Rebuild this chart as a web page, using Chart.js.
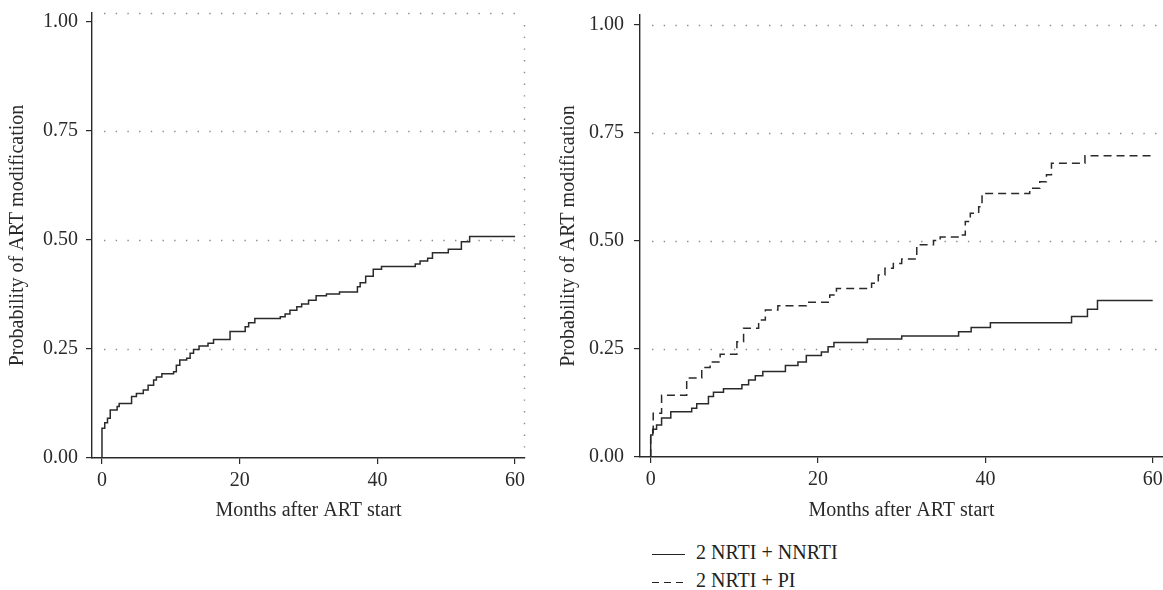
<!DOCTYPE html>
<html>
<head>
<meta charset="utf-8">
<script src="https://cdn.jsdelivr.net/npm/chart.js@4.4.0/dist/chart.umd.min.js"></script>
<style>
  body { margin: 0; background: #fff; width: 1163px; height: 590px; position: relative; overflow: hidden; font-family: "Liberation Serif", serif; }
  #leftBox { position: absolute; left: 0; top: 0; width: 545px; height: 530px; }
  #rightBox { position: absolute; left: 557px; top: 0; width: 606px; height: 530px; }
  #legend { position: absolute; left: 652px; top: 538px; font-size: 20px; color: #222; line-height: 28px; }
  .row { white-space: nowrap; }
  .sample { display: inline-block; width: 33px; height: 1.4px; vertical-align: middle; margin-right: 11px; background: #222; }
  .sample.dash { background: repeating-linear-gradient(to right, #222 0 7px, transparent 7px 12px); }
</style>
</head>
<body>
<div id="leftBox"><canvas id="allChart"></canvas></div>
<div id="rightBox"><canvas id="regimenChart"></canvas></div>
<div id="legend">
  <div class="row"><span class="sample"></span>2 NRTI + NNRTI</div>
  <div class="row"><span class="sample dash"></span>2 NRTI + PI</div>
</div>
<script>
// all patients (left panel)
const allMonths = [0, 0, 0.4, 0.8, 1.2, 2.2, 2.5, 4.3, 5.0, 6.0, 6.7, 7.5, 7.9, 8.7, 10.4, 10.8, 11.3, 12.3, 12.8, 13.3, 14.1, 15.4, 16.2, 18.6, 20.8, 21.3, 22.2, 25.9, 26.6, 27.3, 28.3, 29.0, 30.0, 31.1, 32.6, 34.5, 37.1, 37.5, 38.3, 39.4, 40.6, 45.5, 46.2, 47.3, 48.0, 50.3, 52.2, 53.4, 60];
const allProb = [0, 0.068, 0.081, 0.091, 0.110, 0.118, 0.125, 0.141, 0.148, 0.156, 0.167, 0.179, 0.186, 0.193, 0.198, 0.213, 0.225, 0.229, 0.240, 0.249, 0.257, 0.263, 0.272, 0.290, 0.301, 0.310, 0.320, 0.324, 0.330, 0.339, 0.347, 0.353, 0.362, 0.372, 0.376, 0.381, 0.393, 0.402, 0.417, 0.433, 0.439, 0.445, 0.452, 0.458, 0.471, 0.479, 0.496, 0.508, 0.508];

// 2 NRTI + NNRTI
const nnrtiMonths = [0, 0, 0.24, 0.7, 1.3, 2.4, 4.9, 5.5, 6.9, 7.5, 8.7, 10.9, 11.7, 12.5, 13.4, 16.1, 17.6, 18.6, 20.4, 21.2, 21.9, 25.9, 30.0, 36.8, 38.3, 40.6, 50.3, 52.2, 53.4, 60];
const nnrtiProb = [0, 0.051, 0.064, 0.074, 0.090, 0.105, 0.113, 0.123, 0.140, 0.150, 0.158, 0.167, 0.178, 0.188, 0.198, 0.212, 0.220, 0.235, 0.243, 0.255, 0.265, 0.273, 0.280, 0.290, 0.300, 0.311, 0.325, 0.342, 0.362, 0.362];

// 2 NRTI + PI
const piMonths = [0, 0, 0.3, 1.3, 4.3, 6.1, 7.1, 8.3, 10.3, 11.1, 12.9, 13.7, 15.2, 18.6, 21.4, 22.2, 26.4, 27.2, 28.0, 29.0, 30.0, 31.8, 33.8, 34.6, 37.0, 37.6, 38.2, 39.2, 39.6, 45.3, 46.5, 47.3, 47.9, 51.9, 60];
const piProb = [0, 0.047, 0.101, 0.143, 0.183, 0.207, 0.220, 0.238, 0.267, 0.298, 0.317, 0.340, 0.350, 0.358, 0.375, 0.390, 0.402, 0.421, 0.437, 0.448, 0.458, 0.491, 0.501, 0.509, 0.514, 0.545, 0.564, 0.579, 0.610, 0.622, 0.637, 0.653, 0.680, 0.697, 0.697];

const xTicks = [0, 20, 40, 60];
const yTicks = [0, 0.25, 0.5, 0.75, 1];
const leftGrid = [0.25, 0.5, 0.75];
const rightGrid = [0.25, 0.5, 0.75, 1];

const ink = '#2a2a2a';
const serif = 'Liberation Serif';

function toPoints(months, prob) {
    return months.map((m, i) => ({ x: m, y: prob[i] }));
}

const dottedGrid = {
    id: 'dottedGrid',
    beforeDatasetsDraw(chart, args, opts) {
        const { ctx, chartArea: a, scales: { y } } = chart;
        ctx.save();
        ctx.strokeStyle = '#8c8c8c';
        ctx.lineWidth = 1.4;
        ctx.setLineDash([1.4, 10.3]);
        opts.lines.forEach(v => {
            let py = Math.round(y.getPixelForValue(v)) + 0.5;
            ctx.beginPath();
            ctx.moveTo(a.left + 12, py);
            ctx.lineTo(a.right, py);
            ctx.stroke();
        });
        if (opts.frame) {
            ctx.beginPath();
            ctx.moveTo(a.left + 12, a.top + 0.5);
            ctx.lineTo(a.right, a.top + 0.5);
            ctx.stroke();
            ctx.beginPath();
            ctx.moveTo(a.right - 0.5, a.top + 12);
            ctx.lineTo(a.right - 0.5, a.bottom);
            ctx.stroke();
        }
        ctx.restore();
    }
};

function makeChart(el, datasets, cfg) {
    return new Chart(document.getElementById(el), {
        type: 'line',
        data: { datasets: datasets },
        options: {
            responsive: true,
            maintainAspectRatio: false,
            animation: false,
            layout: { padding: { left: 0, top: cfg.top, right: cfg.right, bottom: 0 } },
            plugins: {
                legend: { display: false },
                tooltip: { enabled: false },
                dottedGrid: { lines: cfg.grid, frame: cfg.frame }
            },
            scales: {
                x: {
                    type: 'linear',
                    min: cfg.xMin,
                    max: cfg.xMax,
                    afterBuildTicks: (scale) => { scale.ticks = xTicks.map(v => ({ value: v })); },
                    afterFit: (scale) => { scale.height = cfg.xHeight; scale.paddingLeft = 0; scale.paddingRight = 0; },
                    grid: { display: true, drawOnChartArea: false, drawTicks: true, tickLength: 6, color: ink, lineWidth: 1.2 },
                    border: { display: true, color: ink, width: 1.4 },
                    ticks: { color: ink, padding: 5, maxRotation: 0, font: { family: serif, size: 20 } },
                    title: { display: true, text: 'Months after ART start', color: ink, padding: { top: 0, bottom: 7 }, font: { family: serif, size: 20 } }
                },
                y: {
                    type: 'linear',
                    min: 0,
                    max: cfg.yMax,
                    afterBuildTicks: (scale) => { scale.ticks = yTicks.map(v => ({ value: v })); },
                    afterFit: (scale) => { scale.width = cfg.yWidth; scale.paddingTop = 0; scale.paddingBottom = 0; },
                    grid: { display: true, drawOnChartArea: false, drawTicks: true, tickLength: 6, color: ink, lineWidth: 1.2 },
                    border: { display: true, color: ink, width: 1.4 },
                    ticks: { color: ink, padding: cfg.tickPad, font: { family: serif, size: 20 }, callback: (v) => Number(v).toFixed(2) },
                    title: { display: true, text: 'Probability of ART modification', color: ink, padding: { top: cfg.titlePad, bottom: 0 }, font: { family: serif, size: 20 } }
                }
            }
        },
        plugins: [dottedGrid]
    });
}

function lineSet(label, months, prob, dash) {
    return {
        label: label,
        data: toPoints(months, prob),
        borderColor: ink,
        borderWidth: 1.5,
        borderDash: dash,
        pointRadius: 0,
        stepped: 'before',
        fill: false
    };
}

makeChart('allChart', [lineSet('All', allMonths, allProb, [])], {
    top: 13, right: 20, xMin: -1.45, xMax: 61.44, yMax: 1.0206,
    xHeight: 72, yWidth: 92, tickPad: 8, titlePad: 6, grid: leftGrid, frame: true
});

makeChart('regimenChart', [
    lineSet('2 NRTI + NNRTI', nnrtiMonths, nnrtiProb, []),
    lineSet('2 NRTI + PI', piMonths, piProb, [8, 5])
], {
    top: 15, right: 0, xMin: -1.28, xMax: 61.23, yMax: 1.023,
    xHeight: 73, yWidth: 83, tickPad: 10, titlePad: 0, grid: rightGrid, frame: false
});
</script>
</body>
</html>
